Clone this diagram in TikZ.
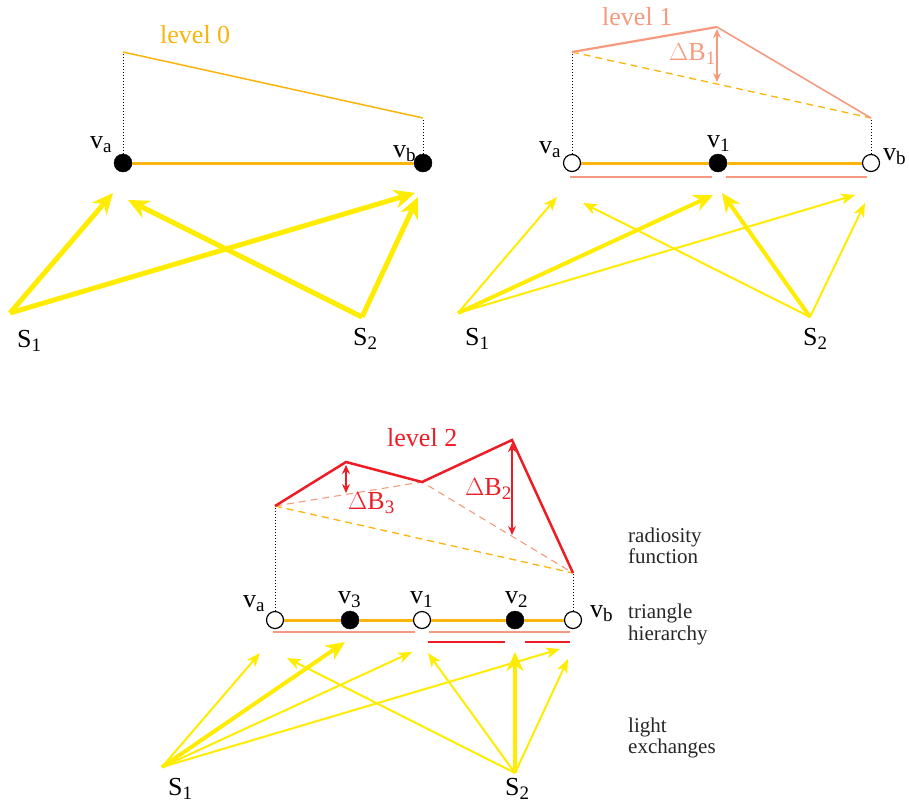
\documentclass[tikz,border=0pt]{standalone}
\usepackage{fontspec}
\setmainfont{Liberation Serif}
\usetikzlibrary{arrows.meta}
\definecolor{lorange}{RGB}{251,180,10}
\definecolor{lyellow}{RGB}{255,236,0}
\definecolor{lsalmon}{RGB}{245,154,126}
\definecolor{lred}{RGB}{238,28,37}
\newcommand{\lsub}[1]{\raisebox{-4.5pt}{\fontsize{19}{19}\selectfont #1}}
\tikzset{
  vfill/.style={circle, fill=black, draw=black, minimum size=18pt, inner sep=0pt},
  vopen/.style={circle, fill=white, draw=black, line width=1.2pt, minimum size=17pt, inner sep=0pt},
  lbl/.style={font=\fontsize{26}{28}\selectfont, inner sep=0pt, anchor=base west},
  side/.style={font=\fontsize{21}{22}\selectfont, inner sep=0pt, anchor=base west, text=black!85},
  bigray/.style={lyellow, line width=5pt, -{Stealth[length=21pt,width=19pt,inset=7pt]}},
  midray/.style={lyellow, line width=4pt, -{Stealth[length=19pt,width=17pt,inset=6pt]}},
  thinray/.style={lyellow, line width=2pt, -{Stealth[length=14pt,width=11pt,inset=4pt]}},
  edge/.style={lorange, line width=3pt},
  dotline/.style={black, line width=1pt, dotted},
  dashline/.style={line width=1.3pt, dash pattern=on 7pt off 5pt},
  dbl/.style={line width=1.2pt, {Stealth[length=9pt,width=8pt]}-{Stealth[length=9pt,width=8pt]}},
}
\begin{document}
\begin{tikzpicture}[x=1pt,y=-1pt]
\useasboundingbox (0,0) rectangle (909,807);

% ================= Panel 1 : level 0 =================
\coordinate (p0a) at (123,52);
\coordinate (p0b) at (423,118);
\node[vfill] (a0) at (123,163) {};
\node[vfill] (b0) at (423,163) {};
\draw[edge] (a0.east) -- (b0.west);
\draw[dotline] (a0.north) -- (p0a);
\draw[dotline] (b0.north) -- (p0b);
\draw[lorange, line width=1.5pt] (p0a) -- (p0b);
\node[lbl, text=lorange] (lev0) at (160,43) {level 0};
\node[lbl] (la0) at (90,148) {v\lsub{a}};
\node[lbl] (lb0) at (393,157) {v\lsub{b}};
\coordinate (s1a) at (10,313);
\coordinate (s2a) at (362,317);
\coordinate (t0a1) at (113,193);
\coordinate (t0b1) at (415,193);
\coordinate (t0a2) at (128,200);
\coordinate (t0b2) at (418,197);
\draw[bigray] (s1a) -- (t0a1);
\draw[bigray] (s1a) -- (t0b1);
\draw[bigray] (s2a) -- (t0a2);
\draw[bigray] (s2a) -- (t0b2);
\node[lbl] (S1a) at (17,347) {S\lsub{1}};
\node[lbl] (S2a) at (353,345) {S\lsub{2}};

% ================= Panel 2 : level 1 =================
\coordinate (p1a) at (572,52);
\coordinate (p1m) at (717,27);
\coordinate (p1b) at (871,118);
\coordinate (p1d) at (717,82);
\node[vopen] (a1) at (572,163) {};
\node[vfill] (m1) at (718,163) {};
\node[vopen] (b1) at (871,163) {};
\draw[edge] (a1.east) -- (m1.west);
\draw[edge] (m1.east) -- (b1.west);
\draw[dotline] (a1.north) -- (p1a);
\draw[dotline] (b1.north) -- (p1b);
\draw[dashline, lorange] (p1a) -- (p1b);
\draw[lsalmon, line width=2.2pt] (p1a) -- (p1m);
\draw[lsalmon, line width=1.6pt] (p1m) -- (p1b);
\draw[dbl, lsalmon] (p1m) ++(0,2) coordinate (d1t) (d1t) -- (p1d);
\draw[lsalmon, line width=1.5pt] (570,177) -- (712,177);
\draw[lsalmon, line width=1.5pt] (726,177) -- (867,177);
\node[lbl, text=lsalmon] (lev1) at (602,25) {level 1};
\node[lbl, text=lsalmon] (dB1) at (669,60) {$\Delta$B\lsub{1}};
\node[lbl] (la1) at (539,153) {v\lsub{a}};
\node[lbl] (lm1) at (707,147) {v\lsub{1}};
\node[lbl] (lb1) at (883,160) {v\lsub{b}};
\coordinate (s1b) at (458,313);
\coordinate (s2b) at (810,317);
\coordinate (t1a1) at (557,197);
\coordinate (t1m1) at (713,195);
\coordinate (t1b1) at (855,195);
\coordinate (t1a2) at (583,203);
\coordinate (t1m2) at (722,193);
\coordinate (t1b2) at (865,203);
\draw[thinray] (s1b) -- (t1a1);
\draw[midray] (s1b) -- (t1m1);
\draw[thinray] (s1b) -- (t1b1);
\draw[thinray] (s2b) -- (t1a2);
\draw[midray] (s2b) -- (t1m2);
\draw[thinray] (s2b) -- (t1b2);
\node[lbl] (S1b) at (465,345) {S\lsub{1}};
\node[lbl] (S2b) at (803,345) {S\lsub{2}};

% ================= Panel 3 : level 2 =================
\coordinate (p2a) at (275,506);
\coordinate (p23) at (346,462);
\coordinate (p21) at (422,482);
\coordinate (p22) at (512,440);
\coordinate (p2b) at (573,573);
\coordinate (d3b) at (346,493);
\coordinate (d2b) at (512,535);
\node[vopen] (a2) at (275,620) {};
\node[vfill] (v3) at (350,620) {};
\node[vopen] (v1) at (422,620) {};
\node[vfill] (v2) at (515,620) {};
\node[vopen] (b2) at (573,620) {};
\draw[edge] (a2.east) -- (v3.west);
\draw[edge] (v3.east) -- (v1.west);
\draw[edge] (v1.east) -- (v2.west);
\draw[edge] (v2.east) -- (b2.west);
\draw[dotline] (a2.north) -- (p2a);
\draw[dotline] (b2.north) -- (p2b);
\draw[dashline, lorange] (p2a) -- (p2b);
\draw[dashline, lsalmon, line width=1.1pt] (p2a) -- (p21) -- (p2b);
\draw[lred, line width=2.5pt, line join=miter] (p2a) -- (p23) -- (p21) -- (p22) -- (p2b);
\draw[dbl, lred] (p23) ++(0,3) coordinate (d3t) (d3t) -- (d3b);
\draw[dbl, lred] (p22) ++(0,3) coordinate (d2t) (d2t) -- (d2b);
\draw[lsalmon, line width=1.5pt] (273,632) -- (415,632);
\draw[lsalmon, line width=1.5pt] (429,632) -- (570,632);
\draw[lred, line width=2pt] (428,642) -- (505,642);
\draw[lred, line width=2pt] (525,642) -- (570,642);
\node[lbl, text=lred] (lev2) at (387,446) {level 2};
\node[lbl, text=lred] (dB3) at (348,509) {$\Delta$B\lsub{3}};
\node[lbl, text=lred] (dB2) at (465,495) {$\Delta$B\lsub{2}};
\node[lbl] (la2) at (243,607) {v\lsub{a}};
\node[lbl] (l3) at (338,603) {v\lsub{3}};
\node[lbl] (l1) at (410,603) {v\lsub{1}};
\node[lbl] (l2) at (505,603) {v\lsub{2}};
\node[lbl] (lb2) at (590,617) {v\lsub{b}};
\coordinate (s1c) at (162,767);
\coordinate (s2c) at (515,773);
\coordinate (c1a) at (260,653);
\coordinate (c13) at (345,642);
\coordinate (c11) at (412,652);
\coordinate (c1b) at (560,649);
\coordinate (c2a) at (287,658);
\coordinate (c21) at (428,653);
\coordinate (c22) at (515,652);
\coordinate (c2b) at (568,659);
\draw[thinray] (s1c) -- (c1a);
\draw[midray] (s1c) -- (c13);
\draw[thinray] (s1c) -- (c11);
\draw[thinray] (s1c) -- (c1b);
\draw[thinray] (s2c) -- (c2a);
\draw[thinray] (s2c) -- (c21);
\draw[midray] (s2c) -- (c22);
\draw[thinray] (s2c) -- (c2b);
\node[lbl] (S1c) at (168,795) {S\lsub{1}};
\node[lbl] (S2c) at (505,795) {S\lsub{2}};

% side captions
\node[side] (r1) at (628,542) {radiosity};
\node[side] (r2) at (628,563) {function};
\node[side] (t1) at (628,618) {triangle};
\node[side] (t2) at (628,640) {hierarchy};
\node[side] (e1) at (628,732) {light};
\node[side] (e2) at (628,753) {exchanges};
\end{tikzpicture}
\end{document}
